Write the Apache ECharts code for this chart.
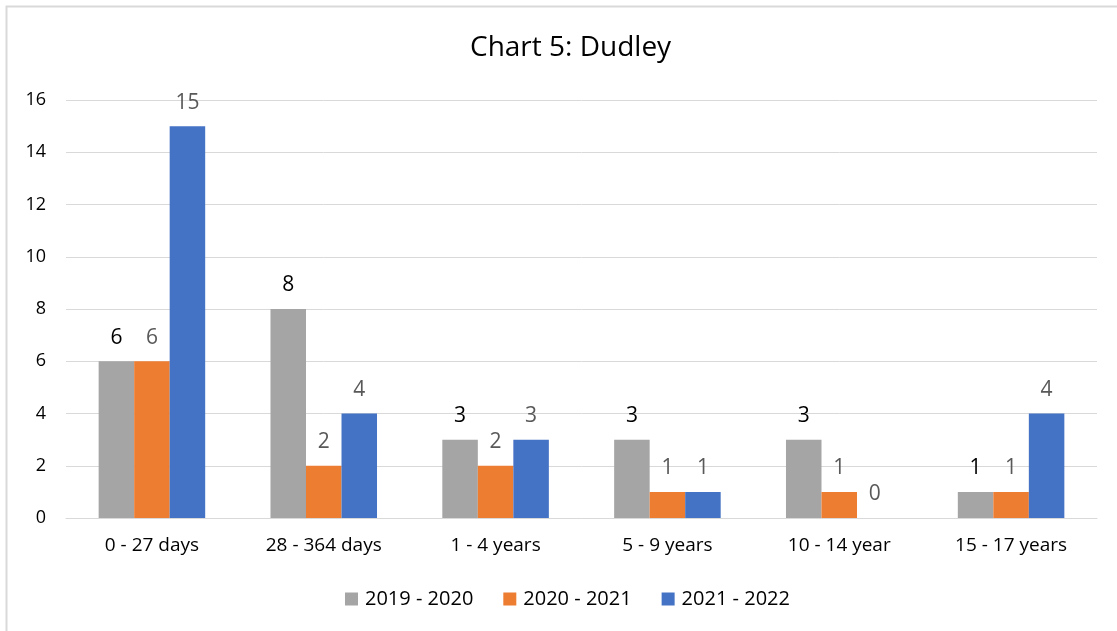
<!DOCTYPE html>
<html lang="en">
<head>
    <meta charset="UTF-8">
    <title>Chart 5: Dudley</title>
    <script src="https://cdn.jsdelivr.net/npm/echarts@6/dist/echarts.min.js"></script>
    <style>
        html, body { margin: 0; padding: 0; background: #fff; }
        #main { width: 1117px; height: 631px; }
    </style>
</head>
<body>
    <div id="main"></div>
    <script type="text/javascript">
        var categories = ['0 - 27 days', '28 - 364 days', '1 - 4 years', '5 - 9 years', '10 - 14 year', '15 - 17 years'];
        var seriesNames = ['2019 - 2020', '2020 - 2021', '2021 - 2022'];
        var values2019 = [6, 8, 3, 3, 3, 1];
        var values2020 = [6, 2, 2, 1, 1, 1];
        var values2021 = [15, 4, 3, 1, 0, 4];
        var colors = ['#A5A5A5', '#ED7D31', '#4472C4'];
        var labelColors = ['#000000', '#595959', '#595959'];

        var font = 'Open Sans';
        var allValues = [values2019, values2020, values2021];

        var series = [];
        for (var i = 0; i < seriesNames.length; i++) {
            series.push({
                name: seriesNames[i],
                type: 'bar',
                data: allValues[i],
                barGap: 0,
                barCategoryGap: '38%',
                itemStyle: { color: colors[i] },
                label: {
                    show: true,
                    position: 'top',
                    distance: 13,
                    color: labelColors[i],
                    fontFamily: font,
                    fontSize: 21
                }
            });
        }

        var myChart = echarts.init(document.getElementById('main'));
        var option = {
            animation: false,
            textStyle: { fontFamily: font },
            title: {
                text: 'Chart 5: Dudley',
                left: 465,
                top: 29,
                textStyle: { fontFamily: font, fontSize: 28, fontWeight: 'normal', color: '#000' }
            },
            graphic: [{
                type: 'rect',
                shape: { x: 6.5, y: 6.5, width: 1120, height: 640 },
                style: { fill: 'none', stroke: '#D9D9D9', lineWidth: 2 },
                silent: true
            }],
            legend: {
                bottom: 17,
                left: 340,
                itemWidth: 13,
                itemHeight: 13,
                itemGap: 30,
                icon: 'rect',
                textStyle: { fontFamily: font, fontSize: 20, color: '#000', padding: [0, 0, 0, 2] },
                data: seriesNames
            },
            grid: { left: 66, right: 20, top: 100, bottom: 113 },
            xAxis: {
                type: 'category',
                data: categories,
                axisTick: { show: false },
                axisLine: { lineStyle: { color: '#D9D9D9', width: 1 } },
                axisLabel: { fontFamily: font, fontSize: 19, color: '#000', margin: 18 }
            },
            yAxis: {
                type: 'value',
                min: 0,
                max: 16,
                interval: 2,
                axisLine: { show: false },
                axisTick: { show: false },
                splitLine: { lineStyle: { color: '#D9D9D9', width: 1 } },
                axisLabel: { fontFamily: font, fontSize: 18, color: '#000', margin: 20 }
            },
            series: series
        };
        option && myChart.setOption(option);
    </script>
</body>
</html>
